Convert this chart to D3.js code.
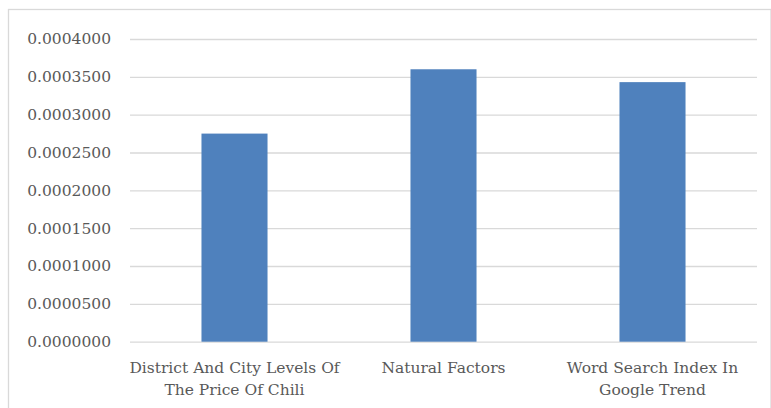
<!DOCTYPE html>
<html>
<head>
<meta charset="utf-8">
<script src="https://cdn.jsdelivr.net/npm/d3@7"></script>
<style>
  html, body { margin: 0; padding: 0; background: #ffffff; }
  svg { display: block; }
</style>
</head>
<body>
<svg id="chart" width="771" height="408"></svg>
<script>
// Factor labels (each split into display lines) and their values
const categories = [
  ["District And City Levels Of", "The Price Of Chili"],
  ["Natural Factors"],
  ["Word Search Index In", "Google Trend"]
];
const values = [0.000275, 0.000360, 0.000343];
const yTicks = [0, 0.00005, 0.0001, 0.00015, 0.0002, 0.00025, 0.0003, 0.00035, 0.0004];

const W = 771, H = 408;
const plot = { left: 130, right: 757, top: 39, bottom: 341.7 };
const fontFamily = "'DejaVu Serif', 'Liberation Serif', serif";
const fontSize = 15.5;
const textColor = "#595959";
const gridColor = "#d9d9d9";
const barColor = "#4f81bd";

const svg = d3.select("#chart");

// Outer chart frame
svg.append("rect")
  .attr("x", 8.5).attr("y", 9.5)
  .attr("width", W - 8.5).attr("height", H)
  .attr("fill", "#ffffff")
  .attr("stroke", gridColor)
  .attr("stroke-width", 1.3);

const keys = categories.map((c, i) => i);
const x = d3.scaleBand()
  .domain(keys)
  .range([plot.left, plot.right])
  .paddingInner(0)
  .paddingOuter(0);

const y = d3.scaleLinear()
  .domain([0, 0.0004])
  .range([plot.bottom, plot.top]);

// Horizontal gridlines with tick labels
const yAxis = d3.axisLeft(y)
  .tickValues(yTicks)
  .tickSize(-(plot.right - plot.left))
  .tickPadding(19)
  .tickFormat(d3.format(".7f"));

const gy = svg.append("g")
  .attr("transform", `translate(${plot.left},0)`)
  .call(yAxis);
gy.select(".domain").remove();
gy.selectAll(".tick line")
  .attr("stroke", gridColor)
  .attr("stroke-width", 1.3);
gy.selectAll(".tick text")
  .attr("fill", textColor)
  .attr("font-family", fontFamily)
  .attr("font-size", fontSize);

// Bars, narrower than their band and centred in it
const barFrac = 0.316;
const barW = x.bandwidth() * barFrac;
svg.append("g")
  .selectAll("rect")
  .data(values)
  .join("rect")
  .attr("x", (d, i) => x(i) + (x.bandwidth() - barW) / 2)
  .attr("y", d => y(d))
  .attr("width", barW)
  .attr("height", d => y(0) - y(d))
  .attr("fill", barColor);

// Category labels under the axis
const gx = svg.append("g");
categories.forEach((lines, i) => {
  const cx = x(i) + x.bandwidth() / 2;
  const t = gx.append("text")
    .attr("text-anchor", "middle")
    .attr("fill", textColor)
    .attr("font-family", fontFamily)
    .attr("font-size", fontSize);
  lines.forEach((line, j) => {
    t.append("tspan")
      .attr("x", cx)
      .attr("y", 373 + j * 21.5)
      .text(line);
  });
});
</script>
</body>
</html>
